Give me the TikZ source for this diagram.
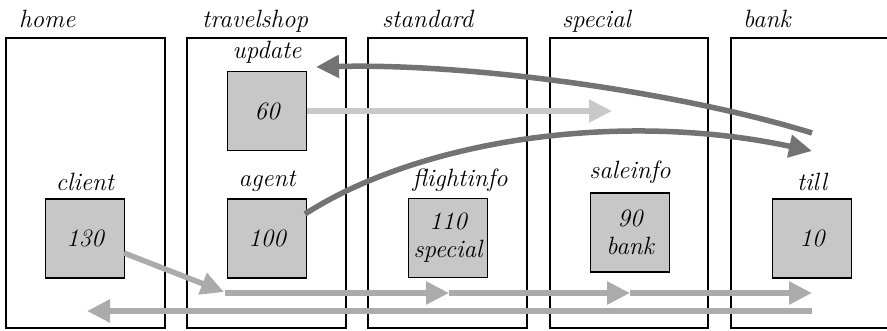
\documentclass[tikz,border=0pt]{standalone}
\usetikzlibrary{arrows.meta}
\definecolor{darkarrow}{gray}{0.45}
\definecolor{lightarrow}{gray}{0.79}
\definecolor{midarrow}{gray}{0.67}
\definecolor{boxfill}{gray}{0.78}
\newcommand{\labfont}{\fontsize{25}{28}\selectfont\itshape}
\begin{document}
\begin{tikzpicture}[x=1pt,y=-1pt,
  frame/.style={draw=black,line width=2pt},
  proc/.style={draw=black,line width=1.2pt,fill=boxfill,minimum width=79pt,minimum height=79pt,inner sep=0pt,align=center,font=\labfont},
  title/.style={font=\labfont,inner sep=0pt,anchor=base west},
  lab/.style={font=\labfont,inner sep=0pt,anchor=base},
  flow/.style={line width=5.5pt,-{Triangle[length=23pt,width=22pt]}},
  darkflow/.style={flow,draw=darkarrow},
  lightflow/.style={flow,draw=lightarrow},
  midflow/.style={flow,draw=midarrow}]
\useasboundingbox (0,0) rectangle (887,330);
\clip (0,0) rectangle (887,330);
% frames
\draw[frame] (6,38) rectangle (165,328);
\draw[frame] (187,38) rectangle (346,328);
\draw[frame] (368,38) rectangle (527,328);
\draw[frame] (550,38) rectangle (708,328);
\draw[frame] (731,38) rectangle (900,328);
% titles
\node[title] (thome) at (19,27) {home};
\node[title] (ttravel) at (202,27) {travelshop};
\node[title] (tstandard) at (382,27) {standard};
\node[title] (tspecial) at (562,27) {special};
\node[title] (tbank) at (743,27) {bank};
% processes
\node[proc] (update) at (267,111) {60};
\node[proc] (client) at (85,238.5) {130};
\node[proc] (agent) at (267,238.5) {100};
\node[proc] (flight) at (448,238) {110\\special};
\node[proc] (sale) at (630,232.5) {90\\bank};
\node[proc] (till) at (812,238.5) {10};
% labels
\node[lab] (lupdate) at (267,58) {update};
\node[lab] (lclient) at (85,190) {client};
\node[lab] (lagent) at (267,186) {agent};
\node[lab] (lflight) at (460,186) {flightinfo};
\node[lab] (lsale) at (630,178) {saleinfo};
\node[lab] (ltill) at (812,190) {till};
% coordinates
\coordinate (a1s) at (812,133);
\coordinate (a1e) at (316,67);
\coordinate (a2e) at (612,111);
\coordinate (a3s) at (305,214);
\coordinate (a3e) at (812,151);
\coordinate (a4s) at (124,253);
\coordinate (a4e) at (224,292);
\coordinate (b0) at (225,293);
\coordinate (b1) at (449,293);
\coordinate (b2) at (630,293);
\coordinate (b3) at (812,293);
\coordinate (c0) at (812,311);
\coordinate (c1) at (87,311);
% arrows
\draw[lightflow] (update.east) -- (a2e);
\draw[darkflow] (a3s) .. controls (420,140) and (620,110) .. (a3e);
\draw[darkflow] (a1s) .. controls (690,95) and (480,63) .. (a1e);
\draw[midflow] (a4s) -- (a4e);
\draw[midflow] (b0) -- (b1);
\draw[midflow] (b1) -- (b2);
\draw[midflow] (b2) -- (b3);
\draw[midflow] (c0) -- (c1);
\end{tikzpicture}
\end{document}
